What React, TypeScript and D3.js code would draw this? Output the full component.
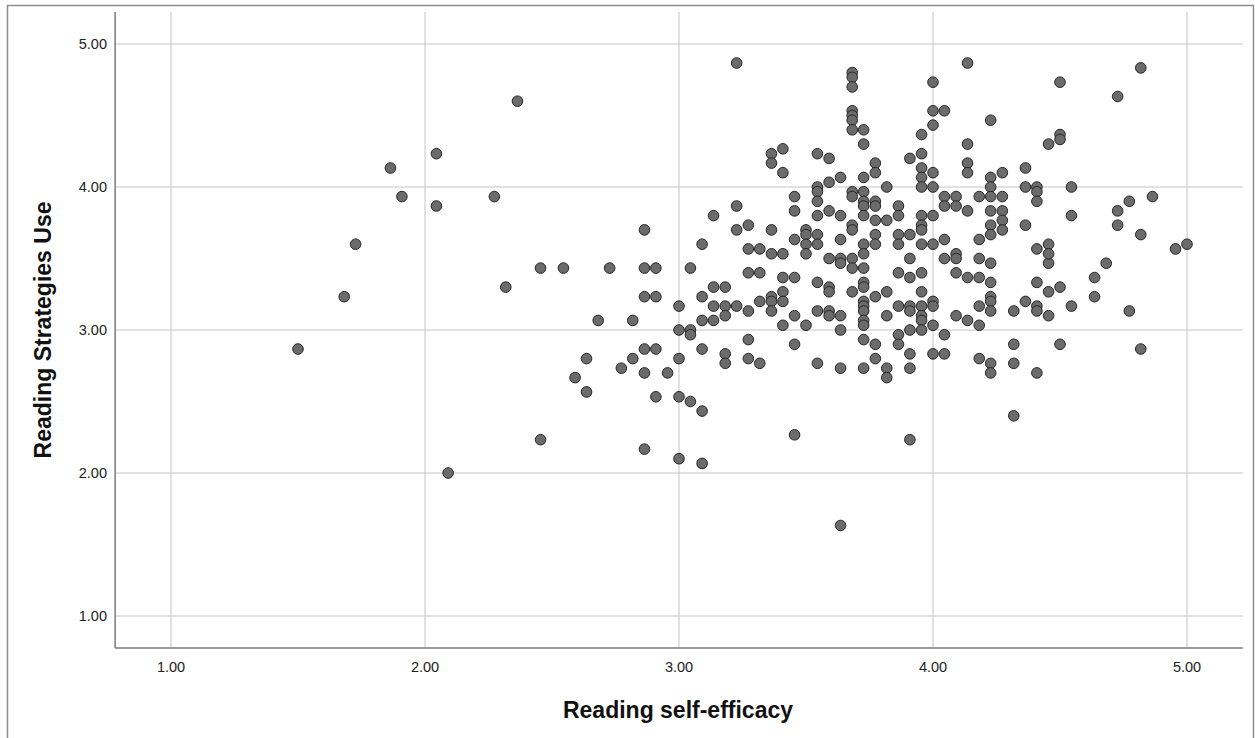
import React from "react";
import * as d3 from "d3";

// Reading self-efficacy (x) and Reading Strategies Use (y), one entry per respondent
const selfEfficacy = [
  2.364, 2.045, 1.864, 1.909, 2.045, 2.273, 1.727, 1.682, 1.5, 2.455, 2.318, 2.455, 2.091,
  3.227, 3.136, 2.864, 3.227, 3.273, 3.091, 3.273, 3.318, 2.545, 2.727, 2.864, 2.909, 3.045,
  3.273, 3.318, 3.136, 3.182, 2.864, 2.909, 3.091, 3.318, 3.0, 3.136, 3.182, 3.227, 3.273,
  3.182, 2.682, 2.818, 3.091, 3.136, 3.0, 3.045, 3.045, 3.273, 2.864, 2.909, 3.091, 2.636,
  2.818, 3.0, 3.182, 3.182, 3.273, 3.318, 2.773, 2.864, 2.955, 2.591, 2.636, 2.909, 3.0,
  3.045, 3.091, 2.864, 3.0, 3.091,
  3.227, 3.682, 3.682, 3.682, 3.682, 3.682, 3.682, 3.682, 3.727, 3.727, 3.364, 3.409, 3.364,
  3.409, 3.545, 3.591, 3.773, 3.773, 3.818, 3.727, 3.636, 3.591, 3.545, 3.545, 3.545, 3.545,
  3.455, 3.455, 3.591, 3.636, 3.682, 3.682, 3.727, 3.727, 3.727, 3.727, 3.773, 3.773, 3.773,
  3.818, 3.864, 3.864, 3.364, 3.455, 3.5, 3.5, 3.5, 3.545, 3.545, 3.636, 3.682, 3.682, 3.727,
  3.773, 3.773, 3.864, 3.864, 3.364, 3.409, 3.5, 3.591, 3.636, 3.682, 3.727,
  3.636, 3.682, 3.727, 3.409, 3.455, 3.545, 3.591, 3.591, 3.682, 3.727, 3.727, 3.773, 3.818,
  3.864, 3.409, 3.364, 3.364, 3.364, 3.409, 3.455, 3.409, 3.5, 3.545, 3.591, 3.591, 3.636,
  3.636, 3.727, 3.727, 3.727, 3.727, 3.727, 3.818, 3.864, 3.864, 3.864, 3.455, 3.727, 3.773,
  3.545, 3.636, 3.727, 3.773, 3.818, 3.818, 3.455,
  4.136, 4.0, 4.0, 4.045, 4.0, 4.227, 3.955, 4.136, 4.455, 3.955, 3.909, 4.136, 4.136, 3.955,
  3.955, 3.955, 4.0, 4.0, 4.227, 4.227, 4.227, 4.273, 4.364, 4.364, 4.409, 4.409, 4.409,
  4.045, 4.045, 4.091, 4.091, 4.136, 4.182, 4.273, 4.227, 4.273, 4.273, 4.273, 4.227, 4.227,
  4.364, 3.955, 3.955, 3.955, 4.0, 3.909, 3.955, 4.0, 4.045, 4.182, 4.409, 4.455, 3.909,
  4.045, 4.091, 4.091, 4.182, 4.227,
  4.455, 3.909, 3.955, 4.091, 4.136, 4.182, 4.227, 4.409, 4.455, 3.955, 4.0, 4.0, 3.909,
  3.909, 3.955, 3.955, 3.955, 3.955, 4.0, 3.909, 4.045, 4.091, 4.136, 4.182, 4.182, 4.227,
  4.227, 4.227, 4.318, 4.364, 4.409, 4.409, 4.455, 3.909, 3.909, 4.0, 4.045, 4.182, 4.227,
  4.227, 4.318, 4.318, 4.409, 4.318, 3.909,
  4.818, 4.5, 4.727, 4.5, 4.5, 4.545, 4.545, 4.773, 4.864, 4.727, 4.727, 4.818, 4.955, 5.0,
  4.455, 4.682, 4.636, 4.5, 4.636, 4.545, 4.773, 4.5, 4.818,
  3.636,
];

const strategiesUse = [
  4.6, 4.233, 4.133, 3.933, 3.867, 3.933, 3.6, 3.233, 2.867, 3.433, 3.3, 2.233, 2.0,
  3.867, 3.8, 3.7, 3.7, 3.733, 3.6, 3.567, 3.567, 3.433, 3.433, 3.433, 3.433, 3.433,
  3.4, 3.4, 3.3, 3.3, 3.233, 3.233, 3.233, 3.2, 3.167, 3.167, 3.167, 3.167, 3.133,
  3.1, 3.067, 3.067, 3.067, 3.067, 3.0, 3.0, 2.967, 2.933, 2.867, 2.867, 2.867, 2.8,
  2.8, 2.8, 2.833, 2.767, 2.8, 2.767, 2.733, 2.7, 2.7, 2.667, 2.567, 2.533, 2.533,
  2.5, 2.433, 2.167, 2.1, 2.067,
  4.867, 4.8, 4.767, 4.7, 4.533, 4.5, 4.467, 4.4, 4.4, 4.3, 4.233, 4.267, 4.167,
  4.1, 4.233, 4.2, 4.167, 4.1, 4.0, 4.067, 4.067, 4.033, 4.0, 3.967, 3.9, 3.8,
  3.933, 3.833, 3.833, 3.8, 3.967, 3.933, 3.967, 3.9, 3.867, 3.8, 3.9, 3.867, 3.767,
  3.767, 3.867, 3.8, 3.7, 3.633, 3.7, 3.667, 3.6, 3.667, 3.6, 3.633, 3.733, 3.7, 3.6,
  3.667, 3.6, 3.667, 3.6, 3.533, 3.533, 3.533, 3.5, 3.5, 3.5, 3.533,
  3.467, 3.433, 3.433, 3.367, 3.367, 3.333, 3.3, 3.267, 3.267, 3.333, 3.3, 3.233, 3.267,
  3.4, 3.267, 3.233, 3.2, 3.133, 3.2, 3.1, 3.033, 3.033, 3.133, 3.133, 3.1, 3.1,
  3.0, 3.2, 3.167, 3.133, 3.067, 3.033, 3.1, 3.167, 2.967, 2.9, 2.9, 2.933, 2.9,
  2.767, 2.733, 2.733, 2.8, 2.733, 2.667, 2.267,
  4.867, 4.733, 4.533, 4.533, 4.433, 4.467, 4.367, 4.3, 4.3, 4.233, 4.2, 4.167, 4.1, 4.133,
  4.067, 4.0, 4.1, 4.0, 4.067, 4.0, 3.933, 4.1, 4.133, 4.0, 4.0, 3.967, 3.9,
  3.933, 3.867, 3.933, 3.867, 3.833, 3.933, 3.933, 3.833, 3.833, 3.767, 3.7, 3.733, 3.667,
  3.733, 3.8, 3.733, 3.7, 3.8, 3.667, 3.6, 3.6, 3.633, 3.633, 3.567, 3.6, 3.5,
  3.5, 3.533, 3.5, 3.5, 3.467,
  3.467, 3.367, 3.4, 3.4, 3.367, 3.367, 3.333, 3.333, 3.267, 3.267, 3.2, 3.167, 3.167,
  3.133, 3.167, 3.1, 3.067, 3.0, 3.033, 3.0, 2.967, 3.1, 3.067, 3.033, 3.167, 3.233,
  3.2, 3.133, 3.133, 3.2, 3.167, 3.133, 3.1, 2.833, 2.733, 2.833, 2.833, 2.8, 2.767,
  2.7, 2.9, 2.767, 2.7, 2.4, 2.233,
  4.833, 4.733, 4.633, 4.367, 4.333, 4.0, 3.8, 3.9, 3.933, 3.833, 3.733, 3.667, 3.567, 3.6,
  3.533, 3.467, 3.367, 3.3, 3.233, 3.167, 3.133, 2.9, 2.867,
  1.633,
];

const xTicks = [1, 2, 3, 4, 5];
const yTicks = [1, 2, 3, 4, 5];

const xTitle = "Reading self-efficacy";
const yTitle = "Reading Strategies Use";

const W = 1255;
const H = 738;
const font = "'Liberation Sans', Arial, sans-serif";

export default function App() {
  // SPSS pads the axes by 0.22 on each side of the 1..5 range
  const x = d3.scaleLinear().domain([1, 5]).range([171, 1187]);
  const y = d3.scaleLinear().domain([1, 5]).range([616, 44]);
  const xLo = x(0.78), xHi = x(5.22);
  const yLo = y(0.776), yHi = y(5.224);

  const points = selfEfficacy.map((v, i) => [v, strategiesUse[i]] as [number, number]);

  return (
    <svg
      width={W}
      height={H}
      style={{ position: "absolute", left: 0, top: 0, background: "#fff" }}
      fontFamily={font}
    >
      <rect x={0} y={0} width={W} height={H} fill="#fff" />
      {/* outer frame */}
      <path d={`M7.5,${H} V5.5 H1253.5 V${H}`} fill="none" stroke="#8c8c8c" strokeWidth={1.5} />

      {/* grid */}
      {xTicks.map(t => (
        <line key={"gx" + t} x1={x(t)} x2={x(t)} y1={yHi} y2={yLo} stroke="#c4c4c4" strokeWidth={1} />
      ))}
      {yTicks.map(t => (
        <line key={"gy" + t} x1={xLo} x2={xHi} y1={y(t)} y2={y(t)} stroke="#c4c4c4" strokeWidth={1} />
      ))}

      {/* axes */}
      <line x1={xLo} x2={xLo} y1={yHi} y2={yLo} stroke="#7a7a7a" strokeWidth={1.5} />
      <line x1={xLo} x2={xHi} y1={yLo} y2={yLo} stroke="#7a7a7a" strokeWidth={1.5} />

      {/* tick labels */}
      {yTicks.map(t => (
        <text key={"ty" + t} x={107} y={y(t)} dy="0.35em" textAnchor="end" fontSize={14.5} fill="#222">
          {d3.format(".2f")(t)}
        </text>
      ))}
      {xTicks.map(t => (
        <text key={"tx" + t} x={x(t)} y={672} textAnchor="middle" fontSize={14.5} fill="#222">
          {d3.format(".2f")(t)}
        </text>
      ))}

      {/* points */}
      {points.map(([a, b], i) => (
        <circle key={i} cx={x(a)} cy={y(b)} r={5.3} fill="#6b6b6b" stroke="#262626" strokeWidth={1} />
      ))}

      {/* axis titles */}
      <text x={678} y={718} textAnchor="middle" fontSize={23} fontWeight="bold" fill="#111">
        {xTitle}
      </text>
      <text
        transform={`translate(51,${(yHi + yLo) / 2}) rotate(-90)`}
        textAnchor="middle"
        fontSize={23}
        fontWeight="bold"
        fill="#111"
      >
        {yTitle}
      </text>
    </svg>
  );
}
